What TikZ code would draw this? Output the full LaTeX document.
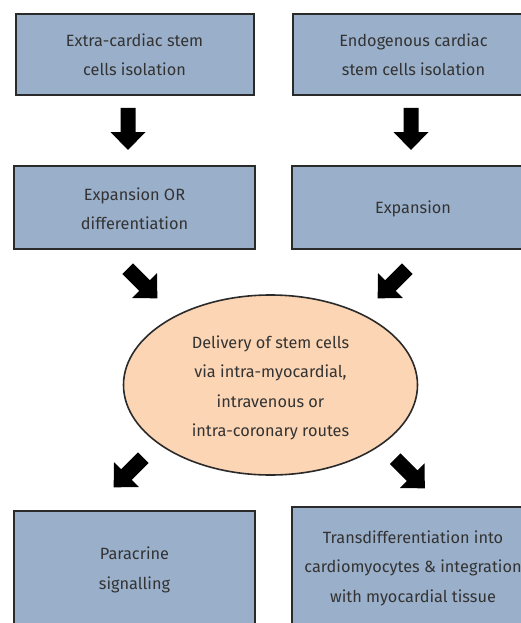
\documentclass[tikz,border=0pt]{standalone}
\usepackage{fontspec}
\setmainfont{Fira Sans}
\usetikzlibrary{shapes.geometric}
\definecolor{boxblue}{HTML}{9AAFC9}
\definecolor{peach}{HTML}{FBD5B4}
\definecolor{edge}{HTML}{2A2A2A}
\definecolor{txt}{HTML}{333333}
\tikzset{
  blockbox/.style={draw=edge, line width=2pt, fill=boxblue, minimum width=238pt, minimum height=81pt, inner sep=0pt},
  label/.style={text=txt, font=\fontsize{16.3}{29.5}\selectfont, align=center},
  blockarrow/.pic={\fill[black] (-21,-7.5) -- (3,-7.5) -- (3,-17.5) -- (21,0) -- (3,17.5) -- (3,7.5) -- (-21,7.5) -- cycle;}
}
\begin{document}
\begin{tikzpicture}[x=1pt,y=-1pt]
\useasboundingbox (0,0) rectangle (521,623);
\clip (0,0) rectangle (521,623);
% boxes
\node[blockbox, minimum width=238pt] (ecs) at (134.5,54.5) {};
\node[label] at (ecs.center) {Extra-cardiac stem\\cells isolation};
\node[blockbox, minimum width=242pt] (endo) at (413.5,54.5) {};
\node[label] at (endo.center) {Endogenous cardiac\\stem cells isolation};
\node[blockbox, minimum width=241pt, minimum height=83pt] (expd) at (134.5,207.5) {};
\node[label] at ([yshift=-1pt]expd.center) {Expansion OR\\differentiation};
\node[blockbox, minimum width=242pt, minimum height=83pt] (exp) at (413,207.5) {};
\node[label] at ([yshift=-1.5pt]exp.center) {Expansion};
\node[ellipse, draw=edge, line width=1.6pt, fill=peach, minimum width=294pt, minimum height=180pt, inner sep=0pt] (del) at (270.5,385) {};
\node[label] at ([yshift=-3pt]del.center) {Delivery of stem cells\\via intra-myocardial,\\intravenous or\\intra-coronary routes};
\node[blockbox, minimum width=241pt, minimum height=118pt] (para) at (134.5,570) {};
\node[label] at (para.center) {Paracrine\\signalling};
\node[blockbox, minimum width=242pt, minimum height=122pt] (trans) at (413,568) {};
\node[label] at (trans.center) {Transdifferentiation into\\cardiomyocytes \& integration\\with myocardial tissue};
% block arrows
\pic[rotate=-90] at (128,129) {blockarrow};
\pic[rotate=-90] at (411,129) {blockarrow};
\pic[rotate=-45] at (142.5,283.5) {blockarrow};
\pic[rotate=-135] at (392.5,283.5) {blockarrow};
\pic[rotate=-135] at (128.5,472.5) {blockarrow};
\pic[rotate=-45] at (410,473.5) {blockarrow};
\end{tikzpicture}
\end{document}
